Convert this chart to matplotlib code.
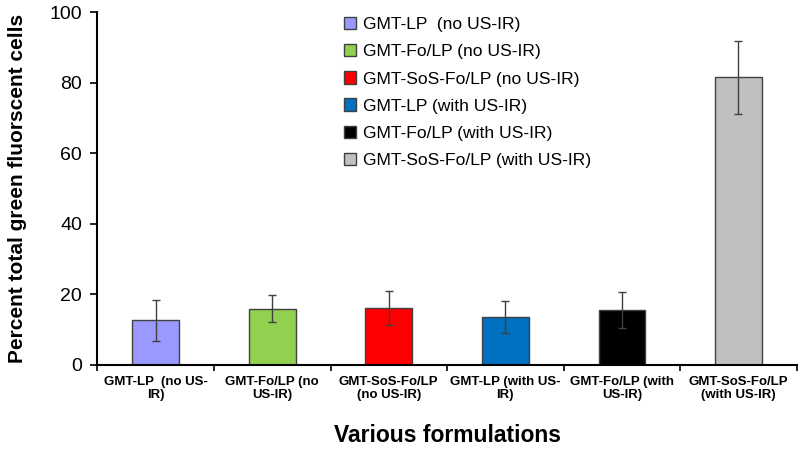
import numpy as np
import matplotlib.pyplot as plt

plt.rcParams['font.family'] = ['Liberation Sans', 'DejaVu Sans']

# data
legend_names = ['GMT-LP  (no US-IR)', 'GMT-Fo/LP (no US-IR)', 'GMT-SoS-Fo/LP (no US-IR)',
                'GMT-LP (with US-IR)', 'GMT-Fo/LP (with US-IR)', 'GMT-SoS-Fo/LP (with US-IR)']
tick_labels = ['GMT-LP  (no US-\nIR)', 'GMT-Fo/LP (no\nUS-IR)', 'GMT-SoS-Fo/LP\n(no US-IR)',
               'GMT-LP (with US-\nIR)', 'GMT-Fo/LP (with\nUS-IR)', 'GMT-SoS-Fo/LP\n(with US-IR)']
values = [12.6, 16.0, 16.2, 13.5, 15.6, 81.5]
errors = [5.7, 3.9, 4.9, 4.5, 5.2, 10.4]
colors = ['#9999ff', '#92d050', '#ff0000', '#0070c0', '#000000', '#c0c0c0']

fig = plt.figure(figsize=(7.99, 4.5), dpi=100)
ax = fig.add_axes([0.122, 0.189, 0.875, 0.784])

x = np.arange(len(values))
bars = ax.bar(x, values, width=0.4, color=colors, edgecolor='#404040', linewidth=1,
              yerr=errors, capsize=3, error_kw=dict(ecolor='#404040', elinewidth=1, capthick=1))

for b, name in zip(bars, legend_names):
    b.set_label(name)

ax.set_xlim(-0.5, len(values) - 0.5)
ax.set_ylim(0, 100)
ax.set_yticks([0, 20, 40, 60, 80, 100])
ax.tick_params(axis='y', labelsize=14, direction='out', length=5, width=1.2, pad=6)

ax.set_xticks(x)
ax.set_xticklabels(tick_labels, fontsize=9.5, fontweight='bold', linespacing=1.15)
ax.tick_params(axis='x', which='major', length=0, pad=8)
ax.set_xticks(np.arange(len(values) + 1) - 0.5, minor=True)
ax.tick_params(axis='x', which='minor', length=4, width=1.2, direction='out')

ax.spines['top'].set_visible(False)
ax.spines['right'].set_visible(False)
ax.spines['left'].set_linewidth(1.5)
ax.spines['bottom'].set_linewidth(1.5)

ax.set_ylabel('Percent total green fluorscent cells', fontsize=15, fontweight='bold', labelpad=16)
ax.set_xlabel('Various formulations', fontsize=16.5, fontweight='bold', labelpad=16)

ax.legend(loc='upper left', bbox_to_anchor=(0.33, 1.031), frameon=False, fontsize=12.6,
          handlelength=0.7, handleheight=0.7, handletextpad=0.4, labelspacing=0.68)

fig.savefig('out.png', dpi=100)
